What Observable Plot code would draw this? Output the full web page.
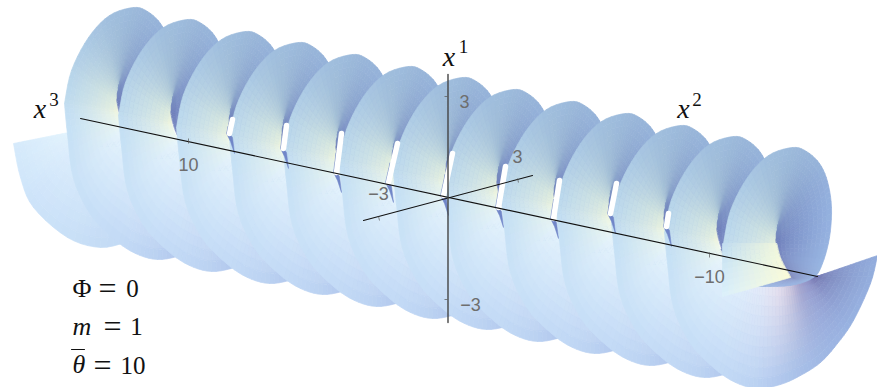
<!DOCTYPE html>
<html><head><meta charset="utf-8">
<script src="https://cdn.jsdelivr.net/npm/d3@7"></script>
<script src="https://cdn.jsdelivr.net/npm/@observablehq/plot@0.6"></script>
<style>html,body{margin:0;background:#fff}svg{display:block}</style>
</head><body><div id="c"></div><script>
// crest of each turn of the surface
const turnX = [78,133,187,245,298,352,408,462,513,570,625,680,733,792];
const turnY = [-5,7,19,31,42,54,66,77,89,101,113,125,136,147];
// upper half of a turn, relative to its crest: [outer x, outer y, hub x, hub y, hub colour, rim colour]
const upperTurn = [
 [-69,96,-16,104,"#f3f7dc","#c0dcf0"],[-62,63,-15,94,"#e6f0da","#b6d3e9"],[-45,30,-14,86,"#c8dbd8","#a9c7e3"],
 [-24,8,-14,80,"#abc4d2","#a0bedd"],[0,0,-14,78,"#90a8c8","#9cbadb"],[14,4,-15,79,"#8299c2","#99b6da"],
 [27,16,-15,82,"#7689be","#96b3da"],[35,34,-16,86,"#7083ba","#94b0dc"],[39,60,-16,90,"#6e7eb8","#94b1df"],
 [37,90,-16,95,"#6a78b6","#96b3e0"],[30,116,-12,111,"#7a88bf","#98b5e2"],[21,130,-2,130,"#7f86b8","#9ab4e0"],
 [-2,138,-2,130,"#8a8fc0","#9cb6e2"],[-34,139,-2,130,"#8f97c8","#a0bae4"]];
// lower half of a turn, relative to its crest
const lowerTurn = [
 [-69,96,-16,104,"#f3f7dc","#c0dcf0"],[-66,127,-13,114,"#f0f9ee","#c6e0f5"],[-60,171,-8,121,"#e9f6fc","#c9e1f7"],
 [-43,207,0,122,"#e6f4fd","#c6def7"],[-19,232,15,126,"#e6f2fd","#c2daf6"],[2,246,23,127,"#e8f0fb","#bed6f4"],[24,252,30,128,"#eaeefa","#b8d0f1"],
 [47,248,45,131,"#efe4ee","#aec6ec"],[67,239,55,133,"#d8c8da","#a6bfe8"],[87,226,62,135,"#a99cc4","#a0b9e5"],
 [104,207,70,137,"#8b7fb5","#9cb5e3"],[120,184,75,139,"#6e629f","#98b2e1"],[137,147,78,140,"#5f5592","#95afde"],
 [144,119,80,141,"#6a64a0","#92acdc"]];
// how fast the shade leaves the hub along a turn (start to end of the sweep)
const upperEase = [0.65,0.65], lowerEase = [0.65,1.1,1.15,0.45,0.4];
// first and last cut edges of the surface
const firstCut = [[-65,148,0,135,"#e6f5fd","#d6e9fb"],[-58,182,5,135,"#e4f3fd","#d0e6fa"],[-45,212,10,135,"#e2f1fd","#cce2f9"],
 [-11,242,20,135,"#e0f0fd","#c8dff7"],[22,252,30,135,"#dceefc","#c4dbf5"],[50,246,45,135,"#dceefc","#c0d8f4"]];
const lastCut = [[-70,96,-16,96,"#eef5dc","#c0dcf0"],[-70,122,-12,111,"#f4f9dc","#d0e8f6"],[-70,149,-2,130,"#fbfbd8","#dcf0fb"]];
// slits of white background near the axis: top x, top y, bottom x, bottom y
const slits = [[232,119,229,133],[286,125,283,148],[341,133,336,172],[397,143,388,182],[452,153,443,195],
 [505,166,498,207],[559,180,553,218],[616,183,610,213],[668,213,666,226]];
// axes
const axisX2 = [[80,118],[817,276]], axisX3 = [[363,220],[532,175]], axisX1 = [[447.5,74],[447.5,322]];
const ticksX = [[188,138,188,143],[709,252,709,257],[444,96,447,96],[444,299,447,299],[378,216,379,220],[517,178,518,182]];
const tickLabels = [["10",188,165],["\u221210",709,277],["3",464,102],["\u22123",470,305],["3",517,157],["\u22123",378,194]];
const axisNames = [["x",39.5,109],["x",448.5,57],["x",683,109]];
const axisPowers = [["3",53.5,99.5],["1",463,46],["2",696.5,99]];
const eqSymbols = [["\u03a6",72,288,"normal"],["m",72,326,"italic"],["\u03b8",72,364,"italic"]];
const eqEquals = [["=",107,288],["=",112,326],["=",102,365]];
const eqValues = [["0",132,288],["1",136,326],["10",132.5,365]];
const thetaBar = [[71,349],[84,349]];

function smooth(p, sub){ // Catmull-Rom through the read stations
  const out=[]; const n=p.length;
  for(let i=0;i<n-1;i++){
    const a=p[Math.max(i-1,0)],b=p[i],c=p[i+1],d=p[Math.min(i+2,n-1)];
    for(let s=0;s<sub;s++){const t=s/sub;
      out.push(b.map((_,k)=>0.5*(2*b[k]+(c[k]-a[k])*t+(2*a[k]-5*b[k]+4*c[k]-d[k])*t*t+(3*b[k]-a[k]-3*c[k]+d[k])*t*t*t)));}
  }
  out.push(p[n-1].slice()); return out;
}
const SUB=5,R=12;
let cellId=0; const cells=[];
function addPart(stations,ease,tx,ty){
  const geo=smooth(stations.map(s=>s.slice(0,4)),SUB);
  const hubCol=d3.piecewise(d3.interpolateRgb,stations.map(s=>s[4]));
  const rimCol=d3.piecewise(d3.interpolateRgb,stations.map(s=>s[5]));
  const easeAt=d3.piecewise(d3.interpolateNumber,ease);
  for(let j=0;j<geo.length-1;j++){
    const g0=geo[j],g1=geo[j+1];const pos=(j+.5)/(geo.length-1);
    const inner=hubCol(pos),outer=rimCol(pos),ex=easeAt(pos);
    for(let r=0;r<R;r++){
      const a=r/R,b=(r+1)/R,t=Math.pow((r+.5)/R,ex);
      const col=d3.interpolateRgb(inner,outer)(t);
      const P=(g,u)=>[tx+g[2]+(g[0]-g[2])*u,ty+g[3]+(g[1]-g[3])*u];
      const id=cellId++;
      for(const q of [P(g0,a),P(g0,b),P(g1,b),P(g1,a)])cells.push({x:q[0],y:q[1],id,c:col});
    }
  }
}
addPart(firstCut,[1,1],turnX[0],turnY[0]);
for(let k=1;k<turnX.length;k++){
  addPart(upperTurn,upperEase,turnX[k],turnY[k]);
  if(k<turnX.length-1) addPart(lowerTurn,lowerEase,turnX[k],turnY[k]);
  else addPart(lastCut,[1,1],turnX[k],turnY[k]);
}
const seg=(a)=>({x1:a[0],y1:a[1],x2:a[2],y2:a[3]});
// dark wedges beside and under each slit
const wedges=[];
slits.forEach((s,i)=>{
  const my=(s[1]+s[3])/2, mx=(s[0]+s[2])/2;
  const pts=[[mx-3,my],[s[2]-3,s[3]],[s[2]+1,s[3]+8],[s[2]+5,s[3]+20],[s[2]+3,s[3]+4],[s[2],s[3]]];
  pts.forEach(p=>wedges.push({x:p[0],y:p[1],i}));
});
const serif="'Liberation Serif', 'Times New Roman', serif";
const plot=Plot.plot({
  width:877,height:387,margin:0,
  x:{domain:[0,877],range:[0,877],axis:null},
  y:{domain:[0,387],range:[0,387],axis:null},
  color:{type:"identity"},
  marks:[
    Plot.line(cells,{x:"x",y:"y",z:"id",fill:"c",stroke:"c",strokeWidth:0.7,curve:"linear-closed"}),
    Plot.line(wedges,{x:"x",y:"y",z:"i",fill:"#7186c8",stroke:"#7186c8",strokeWidth:0.5,curve:"linear-closed"}),
    Plot.link(slits.map(seg),{x1:"x1",y1:"y1",x2:"x2",y2:"y2",stroke:"#fff",strokeWidth:5.5,strokeLinecap:"round"}),
    Plot.line(axisX2,{x:d=>d[0],y:d=>d[1],stroke:"#111",strokeWidth:1.1}),
    Plot.line(axisX3,{x:d=>d[0],y:d=>d[1],stroke:"#111",strokeWidth:1.1}),
    Plot.line(axisX1,{x:d=>d[0],y:d=>d[1],stroke:"#444",strokeWidth:1.4}),
    Plot.link(ticksX.map(seg),{x1:"x1",y1:"y1",x2:"x2",y2:"y2",stroke:"#555",strokeWidth:0.7}),
    Plot.text(tickLabels,{text:d=>d[0],x:d=>d[1],y:d=>d[2],fontFamily:"Liberation Sans",fontSize:18,fill:"#6e6e6e"}),
    Plot.text(axisNames,{text:d=>d[0],x:d=>d[1],y:d=>d[2],fontFamily:serif,fontStyle:"italic",fontSize:28,fill:"#111"}),
    Plot.text(axisPowers,{text:d=>d[0],x:d=>d[1],y:d=>d[2],fontFamily:serif,fontSize:19,fill:"#111"}),
    Plot.text(eqSymbols.filter(d=>d[3]=="normal"),{text:d=>d[0],x:d=>d[1],y:d=>d[2],textAnchor:"start",fontFamily:serif,fontSize:26,fill:"#111"}),
    Plot.text(eqSymbols.filter(d=>d[3]=="italic"),{text:d=>d[0],x:d=>d[1],y:d=>d[2],textAnchor:"start",fontFamily:serif,fontStyle:"italic",fontSize:26,fill:"#111"}),
    Plot.text(eqEquals,{text:d=>d[0],x:d=>d[1],y:d=>d[2],fontFamily:serif,fontSize:32,fill:"#111"}),
    Plot.text(eqValues,{text:d=>d[0],x:d=>d[1],y:d=>d[2],fontFamily:serif,fontSize:25,fill:"#111"}),
    Plot.line(thetaBar,{x:d=>d[0],y:d=>d[1],stroke:"#111",strokeWidth:1})
  ]
});
document.getElementById("c").append(plot);
</script></body></html>
